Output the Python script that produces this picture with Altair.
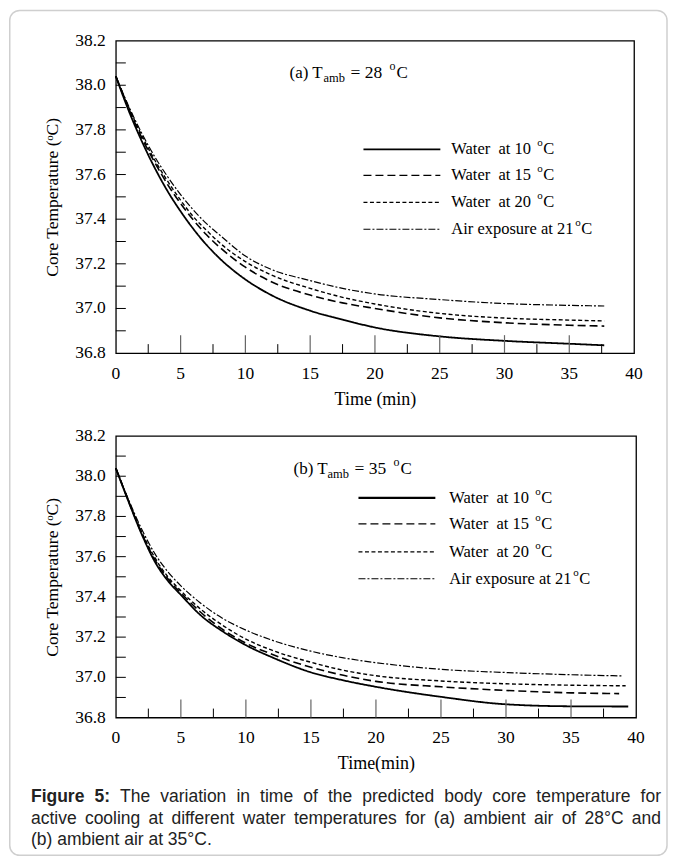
import altair as alt
import pandas as pd

SERIF = "Liberation Serif"
SANS = "Liberation Sans"

# ---------------- data ----------------
KEYS = ["w10", "w15", "w20", "air"]
LABELS = ["Water\u00a0 at 10", "Water\u00a0 at 15", "Water\u00a0 at 20", "Air exposure at 21"]
SUP_DX = [86, 86, 86, 124]
DASHES = [[1, 0], [8, 4], [4, 2.5], [7, 2, 2, 2]]

# Panel (a): ambient 28 C
T_A = [0, 1, 2, 3, 4, 5, 6, 7, 8, 10, 12, 15, 17.5, 20, 25, 30, 35, 37.7]
A10 = [38.04, 37.885, 37.75, 37.63, 37.525, 37.435, 37.355, 37.285, 37.225, 37.13, 37.06, 36.99,
       36.95, 36.915, 36.875, 36.855, 36.842, 36.835]
A15 = [38.04, 37.895, 37.765, 37.655, 37.555, 37.47, 37.395, 37.33, 37.275, 37.185, 37.12, 37.06,
       37.025, 37.0, 36.958, 36.936, 36.925, 36.921]
A20 = [38.04, 37.9, 37.775, 37.665, 37.57, 37.485, 37.41, 37.35, 37.295, 37.21, 37.15, 37.09,
       37.05, 37.02, 36.978, 36.957, 36.948, 36.944]
AAIR = [38.04, 37.905, 37.785, 37.68, 37.59, 37.51, 37.44, 37.38, 37.33, 37.235, 37.175, 37.125,
        37.09, 37.065, 37.04, 37.022, 37.014, 37.011]

# Panel (b): ambient 35 C
T_B = [0, 1, 2, 3, 4, 5, 6.5, 8.3, 10, 12, 15, 17.5, 20, 25, 30, 35]
END_B = [39.4, 38.7, 39.2, 39.0]
B10 = [38.04, 37.87, 37.71, 37.575, 37.48, 37.41, 37.31, 37.225, 37.16, 37.10, 37.025, 36.985,
       36.953, 36.903, 36.866, 36.856, 36.855]
B15 = [38.04, 37.872, 37.715, 37.585, 37.49, 37.42, 37.325, 37.235, 37.17, 37.115, 37.05, 37.01,
       36.98, 36.953, 36.935, 36.923, 36.919]
B20 = [38.04, 37.875, 37.72, 37.595, 37.5, 37.43, 37.34, 37.255, 37.19, 37.135, 37.075, 37.035,
       37.008, 36.982, 36.968, 36.961, 36.958]
BAIR = [38.04, 37.88, 37.735, 37.615, 37.525, 37.455, 37.37, 37.29, 37.235, 37.185, 37.13, 37.097,
        37.073, 37.04, 37.024, 37.013, 37.007]

X_LABELS = [0, 5, 10, 15, 20, 25, 30, 35, 40]
X_MAJOR = [5, 10, 15, 20, 25, 30, 35]
X_MINOR = [2.5, 7.5, 12.5, 17.5, 22.5, 27.5, 32.5, 37.5]
Y_LABELS = [36.8, 37.0, 37.2, 37.4, 37.6, 37.8, 38.0, 38.2]
Y_TICKS = [36.9, 37.0, 37.1, 37.2, 37.3, 37.4, 37.5, 37.6, 37.7, 37.8, 37.9, 38.0, 38.1]

CAP_LINE1 = "Figure 5: The variation in time of the predicted body core temperature for"
CAP_LINE2 = "active cooling at different water temperatures for (a) ambient air of 28\u00b0C and"
CAP_LINE3 = "(b) ambient air at 35\u00b0C."
CAP_BOLD_WORDS = 2


def long_df(times_list, values_list):
    rows = []
    for k, ts, vs in zip(KEYS, times_list, values_list):
        for t, v in zip(ts, vs):
            rows.append({"s": k, "t": t, "v": v})
    return pd.DataFrame(rows)


df_a = long_df([T_A] * 4, [A10, A15, A20, AAIR])
df_b = long_df([T_B + [e] for e in END_B], [B10, B15, B20, BAIR])


def one(txt):
    return pd.DataFrame({"txt": [txt]})


def label(txt, x, y, size, font=SERIF, weight="normal", color="black"):
    return alt.Chart(one(txt)).mark_text(
        align="left", baseline="middle", font=font, fontSize=size,
        fontWeight=weight, color=color
    ).encode(x=alt.value(x), y=alt.value(y), text="txt:N")


LAB_SIZE = 17.5


def panel(df, W, H, xtitle, letter, amb, ann_x, ann_y, leg_rows, leg_x0, leg_x1, leg_tx,
          widths, extra=None):
    xs = alt.Scale(domain=[0, 40], nice=False)
    ys = alt.Scale(domain=[36.8, 38.2], nice=False)
    xax = alt.Axis(values=X_LABELS, title=xtitle, ticks=False, domain=False, grid=False,
                   labels=False, minExtent=0, maxExtent=0, titlePadding=37, titleFont=SERIF,
                   titleFontSize=18, titleFontWeight="normal", titleColor="black")
    yax = alt.Axis(values=Y_LABELS, title="Core Temperature (\u1d52C)", ticks=False, labels=False,
                   domain=False, grid=False, minExtent=0, maxExtent=0, titlePadding=54,
                   titleFont=SERIF, titleFontSize=17.5, titleFontWeight="normal",
                   titleColor="black")
    X = lambda f: alt.X(f, scale=xs, axis=xax)
    Y = lambda f: alt.Y(f, scale=ys, axis=yax)

    lines = alt.Chart(df).mark_line(color="black", interpolate="monotone").encode(
        x=X("t:Q"), y=Y("v:Q"),
        strokeDash=alt.StrokeDash("s:N", scale=alt.Scale(domain=KEYS, range=DASHES), legend=None),
        strokeWidth=alt.StrokeWidth("s:N", scale=alt.Scale(domain=KEYS, range=widths), legend=None),
    )
    xmaj = alt.Chart(pd.DataFrame({"t": X_MAJOR})).mark_rule(color="#666", strokeWidth=1.2).encode(
        x=X("t:Q"), y=alt.value(H), y2=alt.value(H - 18))
    xmin = alt.Chart(pd.DataFrame({"t": X_MINOR})).mark_rule(color="black", strokeWidth=1).encode(
        x=X("t:Q"), y=alt.value(H), y2=alt.value(H - 9))
    yt = alt.Chart(pd.DataFrame({"v": Y_TICKS})).mark_rule(color="black", strokeWidth=1).encode(
        y=Y("v:Q"), x=alt.value(0), x2=alt.value(10))
    xl = alt.Chart(pd.DataFrame({"t": X_LABELS})).mark_text(
        font=SERIF, fontSize=LAB_SIZE, baseline="middle", color="black").encode(
        x=X("t:Q"), y=alt.value(H + 20.5), text=alt.Text("t:Q"))
    yl = alt.Chart(pd.DataFrame({"v": Y_LABELS})).mark_text(
        font=SERIF, fontSize=LAB_SIZE, baseline="middle", align="right", color="black").encode(
        y=Y("v:Q"), x=alt.value(-10), text=alt.Text("v:Q", format=".1f"))

    layers = [lines, xmaj, xmin, yt, xl, yl]
    # annotation "(a) T_amb = 28 oC"
    layers += [
        label(f"({letter}) T", ann_x, ann_y, 17),
        label("amb", ann_x + 34, ann_y + 5, 12.5),
        label(f"= {amb}", ann_x + 61, ann_y, 17.5),
        label("o", ann_x + 100, ann_y - 7, 12),
        label("C", ann_x + 107, ann_y, 17),
    ]
    # legend
    for i, (k, lab) in enumerate(zip(KEYS, LABELS)):
        y = leg_rows[i]
        layers.append(
            alt.Chart(one(k)).mark_rule(color="black", strokeDash=DASHES[i], strokeWidth=widths[i]).encode(
                x=alt.value(leg_x0), x2=alt.value(leg_x1), y=alt.value(y)))
        layers.append(label(lab, leg_tx, y, 16.5))
        layers.append(label("o", leg_tx + SUP_DX[i], y - 6, 11))
        layers.append(label("C", leg_tx + SUP_DX[i] + 6, y, 16.5))
    if extra is not None:
        layers.append(extra)
    return alt.layer(*layers).properties(
        width=W, height=H, view=alt.ViewBackground(stroke="black", strokeWidth=1.3))


border = alt.Chart(one("b")).mark_rect(
    fillOpacity=0, stroke="#cfcfcf", strokeWidth=1.5, cornerRadius=10
).encode(x=alt.value(-106.25), x2=alt.value(552), y=alt.value(-30.25), y2=alt.value(816))

top = panel(df_a, 519, 313, "Time (min)", "a", 28, 174, 32,
            [109, 135, 162, 189], 248, 325, 336, [1.8, 1.2, 1.2, 1.1], extra=border)
bottom = panel(df_b, 521, 282, "Time(min)", "b", 35, 178, 33,
               [62, 88, 116, 143], 243, 320, 334, [2.4, 1.3, 1.2, 1.1])

# ---------- caption (justified like the reference) ----------
ARIAL = {' ': 278, 'a': 556, 'b': 556, 'c': 500, 'd': 556, 'e': 556, 'f': 278, 'g': 556,
         'h': 556, 'i': 222, 'j': 222, 'k': 500, 'l': 222, 'm': 833, 'n': 556, 'o': 556,
         'p': 556, 'q': 556, 'r': 333, 's': 500, 't': 278, 'u': 556, 'v': 500, 'w': 722,
         'x': 500, 'y': 500, 'z': 500, 'T': 611, 'F': 611, '(': 333, ')': 333, '\u00b0': 400,
         'C': 722, ':': 278, '.': 278}
ARIAL_B = {'F': 611, 'i': 278, 'g': 611, 'u': 611, 'r': 389, 'e': 556, ':': 333}
CAP_SIZE = 17.5


def wwidth(word, bold):
    tab = ARIAL_B if bold else ARIAL
    return sum(tab.get(c, 556) for c in word) * CAP_SIZE / 1000.0


def justify(text, y, x0, x1, nbold=0):
    words = text.split()
    ws = [wwidth(w, i < nbold) for i, w in enumerate(words)]
    gap = (x1 - x0 - sum(ws)) / (len(words) - 1)
    rows, x = [], x0
    for i, (w, wd) in enumerate(zip(words, ws)):
        rows.append({"w": w, "px": x, "py": y, "b": i < nbold})
        x += wd + gap
    return rows


CX0, CX1 = -85, 546
cap_rows = justify(CAP_LINE1, -3, CX0, CX1, CAP_BOLD_WORDS) + justify(CAP_LINE2, 18.5, CX0, CX1)
cap_rows += [{"w": CAP_LINE3, "px": CX0, "py": 40, "b": False}]
cap_df = pd.DataFrame(cap_rows)


def cap_layer(bold):
    return alt.Chart(cap_df[cap_df["b"] == bold]).mark_text(
        align="left", baseline="middle", font=SANS, fontSize=CAP_SIZE,
        fontWeight="bold" if bold else "normal", color="#222"
    ).encode(x=alt.X("px:Q", scale=None, axis=None), y=alt.Y("py:Q", scale=None, axis=None),
             text="w:N")


caption = alt.layer(cap_layer(True), cap_layer(False)).properties(
    width=519, height=40, view=alt.ViewBackground(stroke="transparent"))

chart = alt.vconcat(top, bottom, caption, spacing=83, bounds="flush").properties(
    padding={"left": 0, "top": 0, "right": 0, "bottom": 0}, background="white"
).configure_axis(titleFont=SERIF, titleFontWeight="normal", titleColor="black")

chart.save("out.html", embed_options={"renderer": "svg", "actions": False})
